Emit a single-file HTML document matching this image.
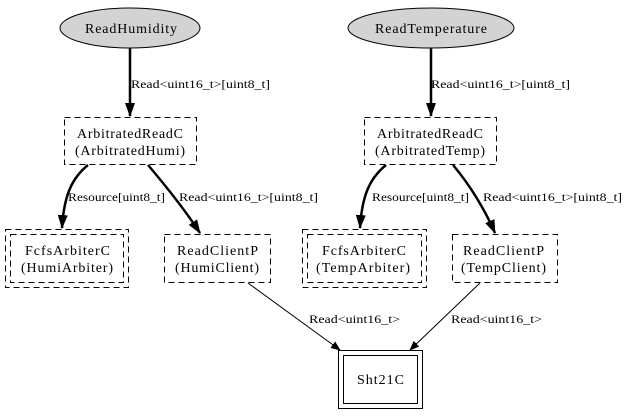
<!DOCTYPE html>
<html><head><style>html,body{margin:0;padding:0;background:#fff}svg{display:block}</style></head>
<body>
<svg width="628" height="416" viewBox="0 0 628 416" xmlns="http://www.w3.org/2000/svg" font-family="Liberation Serif, serif">
<defs>
<marker id="a" markerWidth="10" markerHeight="10" refX="9" refY="5" orient="auto" markerUnits="userSpaceOnUse"><path d="M0,1 L10,5 L0,9 z" fill="#000"/></marker>
<marker id="b" markerWidth="14" markerHeight="12" refX="13" refY="6" orient="auto" markerUnits="userSpaceOnUse"><path d="M0,1 L14,6 L0,11 z" fill="#000"/></marker>
</defs>
<g stroke="#000" fill="none">
<ellipse cx="130" cy="28" rx="70" ry="20" fill="#d3d3d3"/>
<ellipse cx="431" cy="28" rx="83" ry="20" fill="#d3d3d3"/>
<g stroke-dasharray="6,4">
<rect x="64.5" y="117.5" width="132" height="47"/>
<rect x="364.5" y="117.5" width="132" height="47"/>
<rect x="5.5" y="229.5" width="123" height="58"/>
<rect x="10.5" y="234.5" width="113" height="48"/>
<rect x="164.5" y="234.5" width="106" height="48"/>
<rect x="302.5" y="229.5" width="124" height="58"/>
<rect x="307.5" y="234.5" width="114" height="48"/>
<rect x="452.5" y="234.5" width="105" height="48"/>
</g>
<rect x="338.5" y="350.5" width="84" height="58"/>
<rect x="343.5" y="355.5" width="74" height="48"/>
<g stroke-width="2.5">
<line x1="130" y1="48" x2="130" y2="116" marker-end="url(#b)"/>
<line x1="431" y1="48" x2="431" y2="116" marker-end="url(#b)"/>
<path d="M88,165 C72,178 64,195 62,228" marker-end="url(#b)"/>
<path d="M148,165 C165,185 185,210 200,233" marker-end="url(#b)"/>
<path d="M386,165 C370,178 362,195 360,228" marker-end="url(#b)"/>
<path d="M453,165 C470,185 485,210 495,233" marker-end="url(#b)"/>
</g>
<line x1="248" y1="283" x2="340" y2="350" marker-end="url(#a)"/>
<line x1="480" y1="283" x2="410" y2="350" marker-end="url(#a)"/>
</g>
<g font-size="14" fill="#000" lengthAdjust="spacingAndGlyphs">
<text x="85" y="33" textLength="92">ReadHumidity</text>
<text x="375" y="33" textLength="112">ReadTemperature</text>
<text x="77" y="138" textLength="106">ArbitratedReadC</text><text x="75" y="155" textLength="110">(ArbitratedHumi)</text>
<text x="377" y="138" textLength="106">ArbitratedReadC</text><text x="375" y="155" textLength="110">(ArbitratedTemp)</text>
<text x="25" y="255" textLength="85">FcfsArbiterC</text><text x="21" y="272" textLength="92">(HumiArbiter)</text>
<text x="177" y="255" textLength="81">ReadClientP</text><text x="175" y="272" textLength="84">(HumiClient)</text>
<text x="322" y="255" textLength="84">FcfsArbiterC</text><text x="316" y="272" textLength="94">(TempArbiter)</text>
<text x="463" y="255" textLength="81">ReadClientP</text><text x="461" y="272" textLength="85">(TempClient)</text>
<text x="357" y="384" textLength="47">Sht21C</text>
</g>
<g font-size="12" fill="#000">
<text x="131" y="88" textLength="139" lengthAdjust="spacingAndGlyphs">Read&lt;uint16_t&gt;[uint8_t]</text>
<text x="431" y="88" textLength="139" lengthAdjust="spacingAndGlyphs">Read&lt;uint16_t&gt;[uint8_t]</text>
<text x="68" y="201" textLength="97" lengthAdjust="spacingAndGlyphs">Resource[uint8_t]</text>
<text x="179" y="201" textLength="139" lengthAdjust="spacingAndGlyphs">Read&lt;uint16_t&gt;[uint8_t]</text>
<text x="372" y="201" textLength="97" lengthAdjust="spacingAndGlyphs">Resource[uint8_t]</text>
<text x="483" y="201" textLength="139" lengthAdjust="spacingAndGlyphs">Read&lt;uint16_t&gt;[uint8_t]</text>
<text x="309" y="323" textLength="91" lengthAdjust="spacingAndGlyphs">Read&lt;uint16_t&gt;</text>
<text x="451" y="323" textLength="91" lengthAdjust="spacingAndGlyphs">Read&lt;uint16_t&gt;</text>
</g>
</svg>
</body></html>
